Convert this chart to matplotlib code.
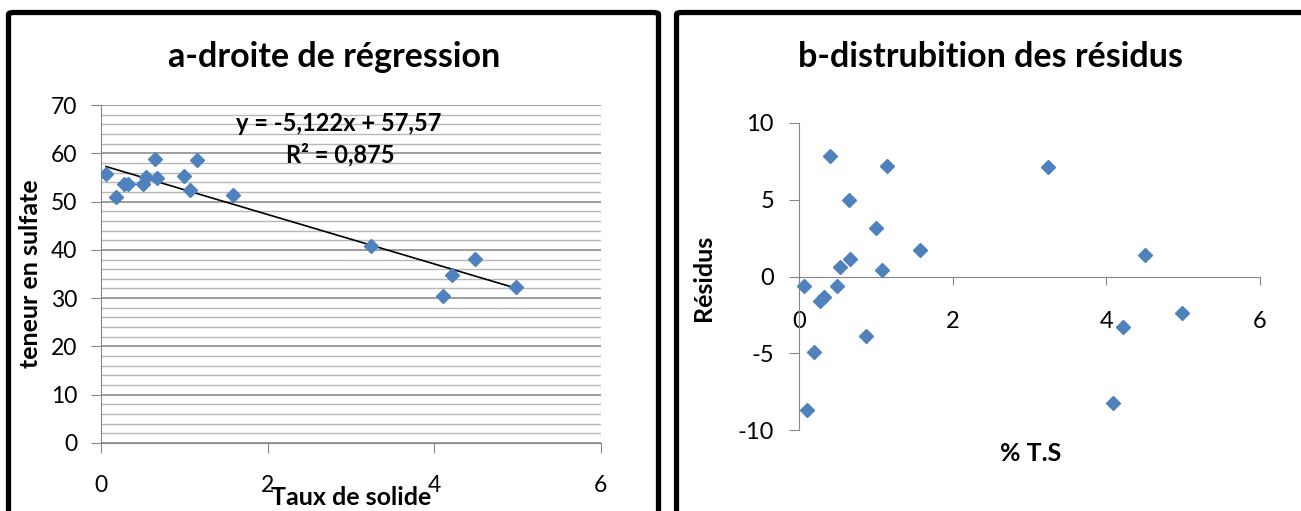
import numpy as np
import matplotlib
matplotlib.use("Agg")
import matplotlib.pyplot as plt
from matplotlib.patches import FancyBboxPatch

plt.rcParams['font.family'] = ['Lato', 'DejaVu Sans']

# a - regression: taux de solide vs teneur en sulfate
taux_solide = [0.06, 0.18, 0.28, 0.32, 0.50, 0.54, 0.65, 0.67, 1.00, 1.07, 1.15, 1.58,
               3.24, 4.10, 4.21, 4.49, 4.98]
teneur_sulfate = [55.8, 50.9, 53.7, 53.7, 53.7, 55.0, 58.8, 54.8, 55.3, 52.3, 58.7, 51.4,
                  40.7, 30.4, 34.7, 38.2, 32.3]
slope, intercept = -5.122, 57.57
eq_text = "y = -5,122x + 57,57"
r2_text = "R² = 0,875"

# b - residus vs % T.S
ts_pct = [0.40, 1.15, 3.24, 0.65, 1.00, 1.57, 4.50, 0.67, 0.54, 1.08, 0.06, 0.50,
          0.33, 0.28, 4.98, 4.22, 0.87, 0.19, 4.09, 0.11]
residus = [7.82, 7.22, 7.13, 5.0, 3.13, 1.72, 1.37, 1.13, 0.59, 0.44, -0.59, -0.65,
           -1.34, -1.58, -2.39, -3.32, -3.87, -4.89, -8.25, -8.69]

blue = '#4F81BD'
axis_gray = '#868686'

fig = plt.figure(figsize=(13.01, 5.11), dpi=100)

# panel frames
for x0, w in [(8.5, 650), (676.5, 700)]:
    fig.patches.append(FancyBboxPatch((x0 / 1301, 1 - 12.5 / 511 - 1.2), w / 1301, 1.2,
                                      boxstyle="round,pad=0,rounding_size=0.004",
                                      transform=fig.transFigure, fill=False,
                                      edgecolor='black', linewidth=3.8, clip_on=False))

# ---- a ----
ax1 = fig.add_axes([0.0776, 0.1331, 0.3843, 0.6614])
ax1.plot(taux_solide, teneur_sulfate, linestyle='none', marker='D', ms=7,
         color=blue, mec=blue, zorder=3)
xl = np.array([min(taux_solide), max(taux_solide)])
ax1.plot(xl, slope * xl + intercept, color='black', lw=1.2, zorder=2)
ax1.set_xlim(0, 6)
ax1.set_ylim(0, 70)
ax1.set_xticks([0, 2, 4, 6])
ax1.set_yticks(range(0, 71, 10))
ax1.set_yticks(np.arange(0, 71, 2), minor=True)
ax1.grid(axis='y', which='minor', color='#b7b7b7', lw=1)
ax1.grid(axis='y', which='major', color='#8c8c8c', lw=1.2)
ax1.tick_params(axis='y', which='minor', length=0)
ax1.tick_params(axis='y', which='major', length=7, color=axis_gray, pad=10, labelsize=16.5)
ax1.tick_params(axis='x', length=7, color=axis_gray, pad=16, labelsize=16.5)
for s in ['top', 'right']:
    ax1.spines[s].set_visible(False)
for s in ['left', 'bottom']:
    ax1.spines[s].set_color(axis_gray)
ax1.set_axisbelow(True)
ax1.set_title("a-droite de régression", x=0.466, y=1.142, va='center', pad=0,
              fontsize=24.5, fontweight='bold')
ax1.set_xlabel("Taux de solide", fontsize=18, fontweight='bold', va='center')
ax1.xaxis.set_label_coords(0.5, -0.162)
ax1.set_ylabel("teneur en sulfate", fontsize=18, fontweight='bold', va='center')
ax1.yaxis.set_label_coords(-0.14, 0.5)
ax1.text(0.476, 0.944, eq_text, transform=ax1.transAxes, ha='center', va='center',
         fontsize=17, fontweight='bold')
ax1.text(0.478, 0.852, r2_text, transform=ax1.transAxes, ha='center', va='center',
         fontsize=17, fontweight='bold')

# ---- b ----
ax2 = fig.add_axes([0.6141, 0.1585, 0.3543, 0.6008])
ax2.plot(ts_pct, residus, linestyle='none', marker='D', ms=7, color=blue, mec=blue,
         zorder=3, clip_on=False)
ax2.set_xlim(0, 6)
ax2.set_ylim(-10, 10)
ax2.set_xticks([0, 2, 4, 6])
ax2.set_yticks([-10, -5, 0, 5, 10])
ax2.set_yticklabels(['-10', '-5', '0', '5', '10'])
ax2.spines['left'].set_position(('data', 0))
ax2.spines['bottom'].set_position(('data', 0))
for s in ['top', 'right']:
    ax2.spines[s].set_visible(False)
for s in ['left', 'bottom']:
    ax2.spines[s].set_color(axis_gray)
ax2.tick_params(axis='y', length=7, color=axis_gray, pad=11, labelsize=17)
ax2.tick_params(axis='x', length=6, color=axis_gray, pad=19, labelsize=17)
ax2.set_title("b-distrubition des résidus", x=0.4165, y=1.215, va='center', pad=0,
              fontsize=24.5, fontweight='bold')
ax2.set_xlabel("% T.S", fontsize=18, fontweight='bold', va='center')
ax2.xaxis.set_label_coords(0.503, -0.075)
ax2.set_ylabel("Résidus", fontsize=18, fontweight='bold', va='center')
ax2.yaxis.set_label_coords(-0.208, 0.495)

fig.savefig("out.png", dpi=100)
